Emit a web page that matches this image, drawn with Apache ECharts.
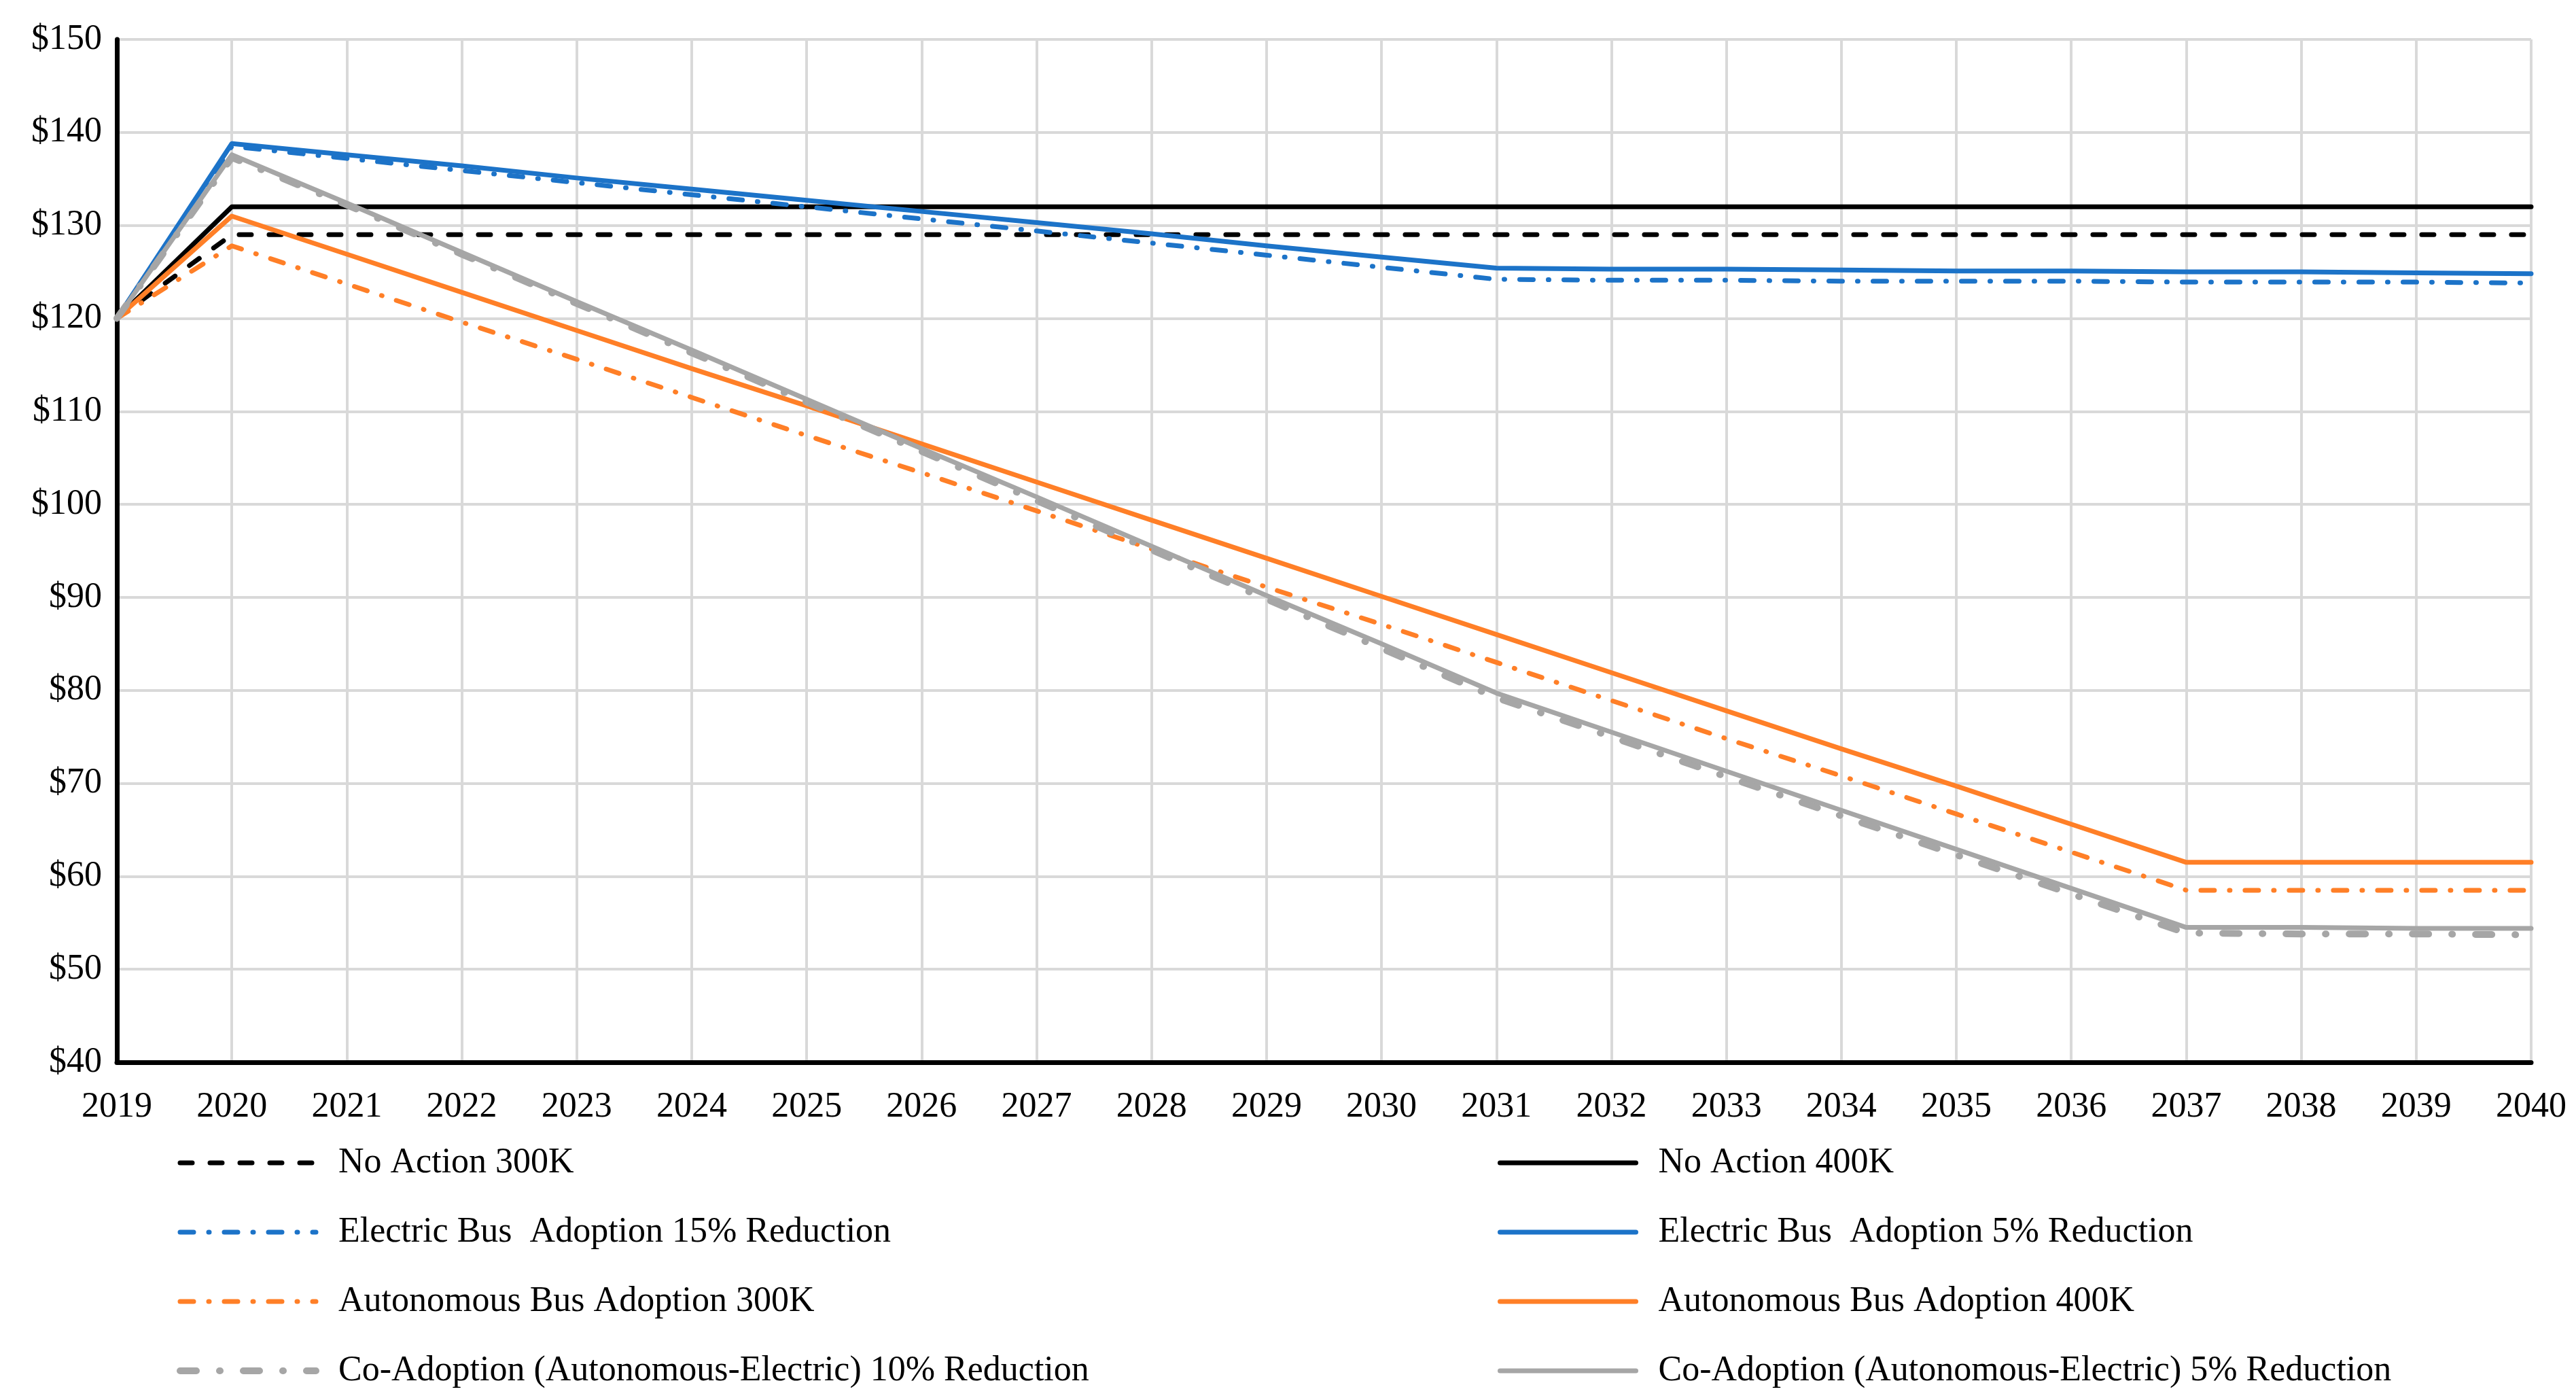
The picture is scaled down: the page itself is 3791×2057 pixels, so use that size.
<!DOCTYPE html>
<html>
<head>
<meta charset="utf-8">
<script src="https://cdn.jsdelivr.net/npm/echarts@6/dist/echarts.min.js"></script>
<style>html,body{margin:0;padding:0;background:#fff;}#c{width:3791px;height:2057px;}</style>
</head>
<body>
<div id="c"></div>
<script>
const years = ['2019','2020','2021','2022','2023','2024','2025','2026','2027','2028','2029','2030','2031','2032','2033','2034','2035','2036','2037','2038','2039','2040'];

const noAction300K = [120,129,129,129,129,129,129,129,129,129,129,129,129,129,129,129,129,129,129,129,129,129];
const noAction400K = [120,132,132,132,132,132,132,132,132,132,132,132,132,132,132,132,132,132,132,132,132,132];
const electric15 = [120,138.5,137.2,135.9,134.6,133.3,132.0,130.7,129.4,128.1,126.8,125.5,124.2,124.1,124.1,124.0,124.0,124.0,123.9,123.9,123.9,123.8];
const electric5 = [120,138.8,137.6,136.4,135.1,133.9,132.7,131.5,130.3,129.1,127.8,126.6,125.4,125.3,125.3,125.2,125.1,125.1,125.0,125.0,124.9,124.8];
const autonomous300K = [120,127.8,123.7,119.6,115.6,111.5,107.4,103.4,99.3,95.2,91.1,87.1,83.0,78.9,74.8,70.8,66.7,62.6,58.5,58.5,58.5,58.5];
const autonomous400K = [120,131.0,126.9,122.8,118.7,114.6,110.6,106.5,102.4,98.3,94.2,90.1,86.0,81.9,77.8,73.7,69.7,65.6,61.5,61.5,61.5,61.5];
const coAdoption10 = [120,137.3,132.2,126.9,121.6,116.3,111.0,105.7,100.4,95.1,89.8,84.5,79.2,75.0,70.7,66.5,62.3,58.1,53.9,53.8,53.8,53.7];
const coAdoption5 = [120,137.6,132.4,127.1,121.8,116.6,111.3,106.0,100.8,95.5,90.2,85.0,79.7,75.5,71.3,67.1,62.9,58.7,54.5,54.5,54.4,54.4];

const names = [
  'No Action 300K',
  'No Action 400K',
  'Electric Bus  Adoption 15% Reduction',
  'Electric Bus  Adoption 5% Reduction',
  'Autonomous Bus Adoption 300K',
  'Autonomous Bus Adoption 400K',
  'Co-Adoption (Autonomous-Electric) 10% Reduction',
  'Co-Adoption (Autonomous-Electric) 5% Reduction'
];

const BLACK = '#000000', BLUE = '#1C73C8', ORANGE = '#FF7F27', GRAY = '#A6A6A6';
const FONT = '"Liberation Serif", "DejaVu Serif", serif';

const styles = [
  { color: BLACK, width: 7, type: [18, 26] },
  { color: BLACK, width: 7, type: 'solid' },
  { color: BLUE, width: 7, type: [20, 22, 1, 22] },
  { color: BLUE, width: 7, type: 'solid' },
  { color: ORANGE, width: 7, type: [20, 22, 1, 22] },
  { color: ORANGE, width: 7, type: 'solid' },
  { color: GRAY, width: 10, type: [24, 34, 1, 34] },
  { color: GRAY, width: 7, type: 'solid' }
];
const seriesData = [noAction300K, noAction400K, electric15, electric5, autonomous300K, autonomous400K, coAdoption10, coAdoption5];

const series = names.map(function (n, i) {
  const s = styles[i];
  return {
    name: n, type: 'line', data: seriesData[i], symbol: 'none', showSymbol: false,
    lineStyle: { color: s.color, width: s.width, type: s.type, cap: 'round', join: 'round' },
    itemStyle: { color: s.color },
    emphasis: { disabled: true }, animation: false
  };
});

function legendItem(i) {
  const s = styles[i];
  return {
    name: names[i],
    itemStyle: { opacity: 0 },
    lineStyle: { color: s.color, width: s.width, type: s.type, cap: 'round' }
  };
}

const legendCommon = {
  orient: 'vertical', itemWidth: 200, itemHeight: 20, itemGap: 50,
  top: 1685, height: 400, padding: 0, selectedMode: false,
  textStyle: { fontFamily: FONT, fontSize: 52, color: '#000', lineHeight: 52, padding: [0, 0, 0, 28] }
};

const chart = echarts.init(document.getElementById('c'));
chart.setOption({
  backgroundColor: '#ffffff',
  animation: false,
  grid: { left: 172, right: 66, top: 58, bottom: 494, containLabel: false },
  xAxis: {
    type: 'category', data: years, boundaryGap: false,
    axisLine: { show: true, lineStyle: { color: '#000', width: 7 } },
    axisTick: { show: false },
    axisLabel: { fontFamily: FONT, fontSize: 52, color: '#000', margin: 40 },
    splitLine: { show: true, lineStyle: { color: '#D9D9D9', width: 4 } }
  },
  yAxis: {
    type: 'value', min: 40, max: 150, interval: 10,
    axisLine: { show: true, lineStyle: { color: '#000', width: 7 } },
    axisTick: { show: false },
    axisLabel: { fontFamily: FONT, fontSize: 52, color: '#000', margin: 22, formatter: '${value}' },
    splitLine: { show: true, lineStyle: { color: '#D9D9D9', width: 4 } }
  },
  legend: [
    Object.assign({}, legendCommon, { left: 260, data: [legendItem(0), legendItem(2), legendItem(4), legendItem(6)] }),
    Object.assign({}, legendCommon, { left: 2204, data: [legendItem(1), legendItem(3), legendItem(5), legendItem(7)] })
  ],
  series: series
});
</script>
</body>
</html>
